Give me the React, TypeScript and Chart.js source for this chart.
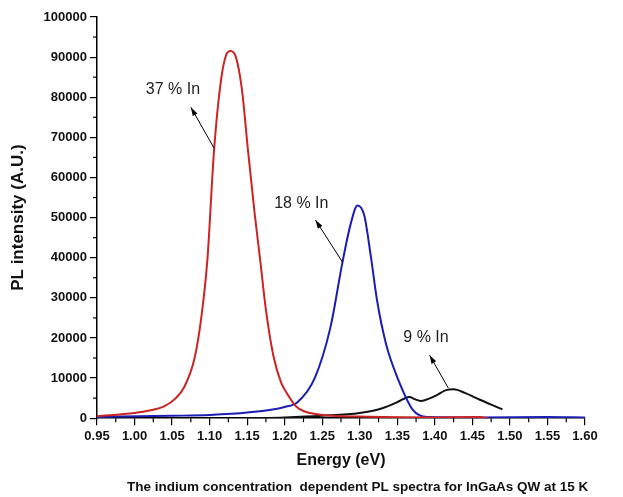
import { useEffect, useRef } from "react"
import Chart from "chart.js/auto"

// Spectra (energy in eV, intensity in A.U.)
const redEnergy = [0.95, 1.0, 1.02, 1.04, 1.055, 1.066, 1.08, 1.089, 1.097, 1.106, 1.115, 1.122, 1.128, 1.135, 1.143, 1.151, 1.16, 1.167, 1.175, 1.185, 1.195, 1.203, 1.216, 1.243, 1.3, 1.4, 1.46, 1.47]
const redValues = [500, 1300, 1900, 3000, 5000, 7700, 15000, 25200, 39400, 67000, 84000, 90500, 91500, 90000, 82000, 67000, 51000, 40000, 27000, 15500, 9000, 6200, 2800, 1000, 400, 200, 300, 0]

const blueEnergy = [0.95, 1.05, 1.1, 1.15, 1.2, 1.217, 1.24, 1.261, 1.277, 1.288, 1.297, 1.306, 1.315, 1.323, 1.335, 1.35, 1.371, 1.39, 1.46, 1.55, 1.6]
const blueValues = [300, 600, 800, 1400, 2800, 4000, 10000, 22700, 38900, 48500, 53000, 50500, 40000, 29400, 18500, 10200, 2000, 300, 200, 300, 200]

const blackEnergy = [1.15, 1.2, 1.25, 1.3, 1.33, 1.35, 1.366, 1.374, 1.381, 1.4, 1.415, 1.425, 1.44, 1.46, 1.475, 1.49]
const blackValues = [0, 200, 600, 1300, 2500, 4000, 5300, 4700, 4300, 5500, 7000, 7200, 6300, 4600, 3400, 2200]

// label text, label position, arrow from -> to (data coords)
const labels = [
  { text: "37 % In", at: [1.015, 81800], from: [1.106, 67300], to: [1.075, 77500] },
  { text: "18 % In", at: [1.186, 53600], from: [1.277, 38900], to: [1.241, 49400] },
  { text: "9 % In", at: [1.358, 20200], from: [1.418, 7500], to: [1.393, 15700] },
]

const caption = "The indium concentration  dependent PL spectra for InGaAs QW at 15 K"

const toPoints = (xs: number[], ys: number[]) => xs.map((x, i) => ({ x, y: ys[i] }))

export default function App() {
  const canvasRef = useRef<HTMLCanvasElement>(null)

  useEffect(() => {
    document.body.style.margin = "0"
    const ctx = canvasRef.current!.getContext("2d")!

    const extras = {
      id: "extras",
      afterDraw(chart: any) {
        const c = chart.ctx
        const xs = chart.scales.x
        const ys = chart.scales.y
        c.save()
        c.strokeStyle = "#000"
        c.lineWidth = 1.2
        // minor ticks
        for (let v = 0.975; v < 1.6; v += 0.05) {
          const px = xs.getPixelForValue(v)
          c.beginPath(); c.moveTo(px, ys.bottom); c.lineTo(px, ys.bottom + 4); c.stroke()
        }
        for (let v = 5000; v < 100000; v += 10000) {
          const py = ys.getPixelForValue(v)
          c.beginPath(); c.moveTo(xs.left, py); c.lineTo(xs.left - 4, py); c.stroke()
        }
        // annotations
        c.font = "16px 'Liberation Sans', Arial, sans-serif"
        c.textBaseline = "middle"
        for (const l of labels) {
          c.fillStyle = "#222"
          c.fillText(l.text, xs.getPixelForValue(l.at[0]), ys.getPixelForValue(l.at[1]))
          const x1 = xs.getPixelForValue(l.from[0]), y1 = ys.getPixelForValue(l.from[1])
          const x2 = xs.getPixelForValue(l.to[0]), y2 = ys.getPixelForValue(l.to[1])
          c.lineWidth = 1
          c.beginPath(); c.moveTo(x1, y1); c.lineTo(x2, y2); c.stroke()
          const a = Math.atan2(y2 - y1, x2 - x1)
          c.beginPath()
          c.moveTo(x2, y2)
          c.lineTo(x2 - 9 * Math.cos(a - 0.3), y2 - 9 * Math.sin(a - 0.3))
          c.lineTo(x2 - 9 * Math.cos(a + 0.3), y2 - 9 * Math.sin(a + 0.3))
          c.closePath(); c.fillStyle = "#000"; c.fill()
        }
        // caption
        c.font = "bold 13.5px 'Liberation Sans', Arial, sans-serif"
        c.fillStyle = "#111"
        c.textBaseline = "middle"
        c.fillText(caption, 127, 487)
        c.restore()
      },
    }

    const font = { family: "'Liberation Sans', Arial, sans-serif", weight: "bold" as const }

    const chart = new Chart(ctx, {
      type: "line",
      data: {
        datasets: [
          { data: toPoints(redEnergy, redValues), borderColor: "#cc2424", borderWidth: 2 },
          { data: toPoints(blueEnergy, blueValues), borderColor: "#1c1cb4", borderWidth: 2 },
          { data: toPoints(blackEnergy, blackValues), borderColor: "#111", borderWidth: 2 },
        ],
      },
      options: {
        animation: false,
        responsive: false,
        parsing: false,
        elements: { point: { radius: 0 }, line: { tension: 0.4, cubicInterpolationMode: "monotone" } },
        layout: { padding: { left: 4, right: 38, top: 17, bottom: 27 } },
        plugins: {
          legend: { display: false },
          tooltip: { enabled: false },
        },
        scales: {
          x: {
            type: "linear",
            min: 0.95,
            max: 1.6,
            ticks: {
              stepSize: 0.05,
              color: "#111",
              font: { ...font, size: 13 },
              maxRotation: 0,
              callback: (v) => Number(v).toFixed(2),
            },
            grid: { drawOnChartArea: false, tickLength: 7, color: "#000", lineWidth: 1.2 },
            border: { color: "#000", width: 1.5 },
            title: { display: true, text: "Energy (eV)", color: "#111", font: { ...font, size: 16 }, padding: { top: 4, bottom: 0 } },
          },
          y: {
            min: 0,
            max: 100000,
            afterFit: (s: any) => { s.width = 93 },
            ticks: { stepSize: 10000, color: "#111", font: { ...font, size: 13 }, callback: (v) => String(v) },
            grid: { drawOnChartArea: false, tickLength: 7, color: "#000", lineWidth: 1.2 },
            border: { color: "#000", width: 1.5 },
            title: { display: true, text: "PL intensity (A.U.)", color: "#111", font: { ...font, size: 17 } },
          },
        },
      },
      plugins: [extras],
    })
    return () => chart.destroy()
  }, [])

  return (
    <div style={{ width: 623, height: 497, background: "#fff" }}>
      <canvas ref={canvasRef} width={623} height={497} />
    </div>
  )
}
